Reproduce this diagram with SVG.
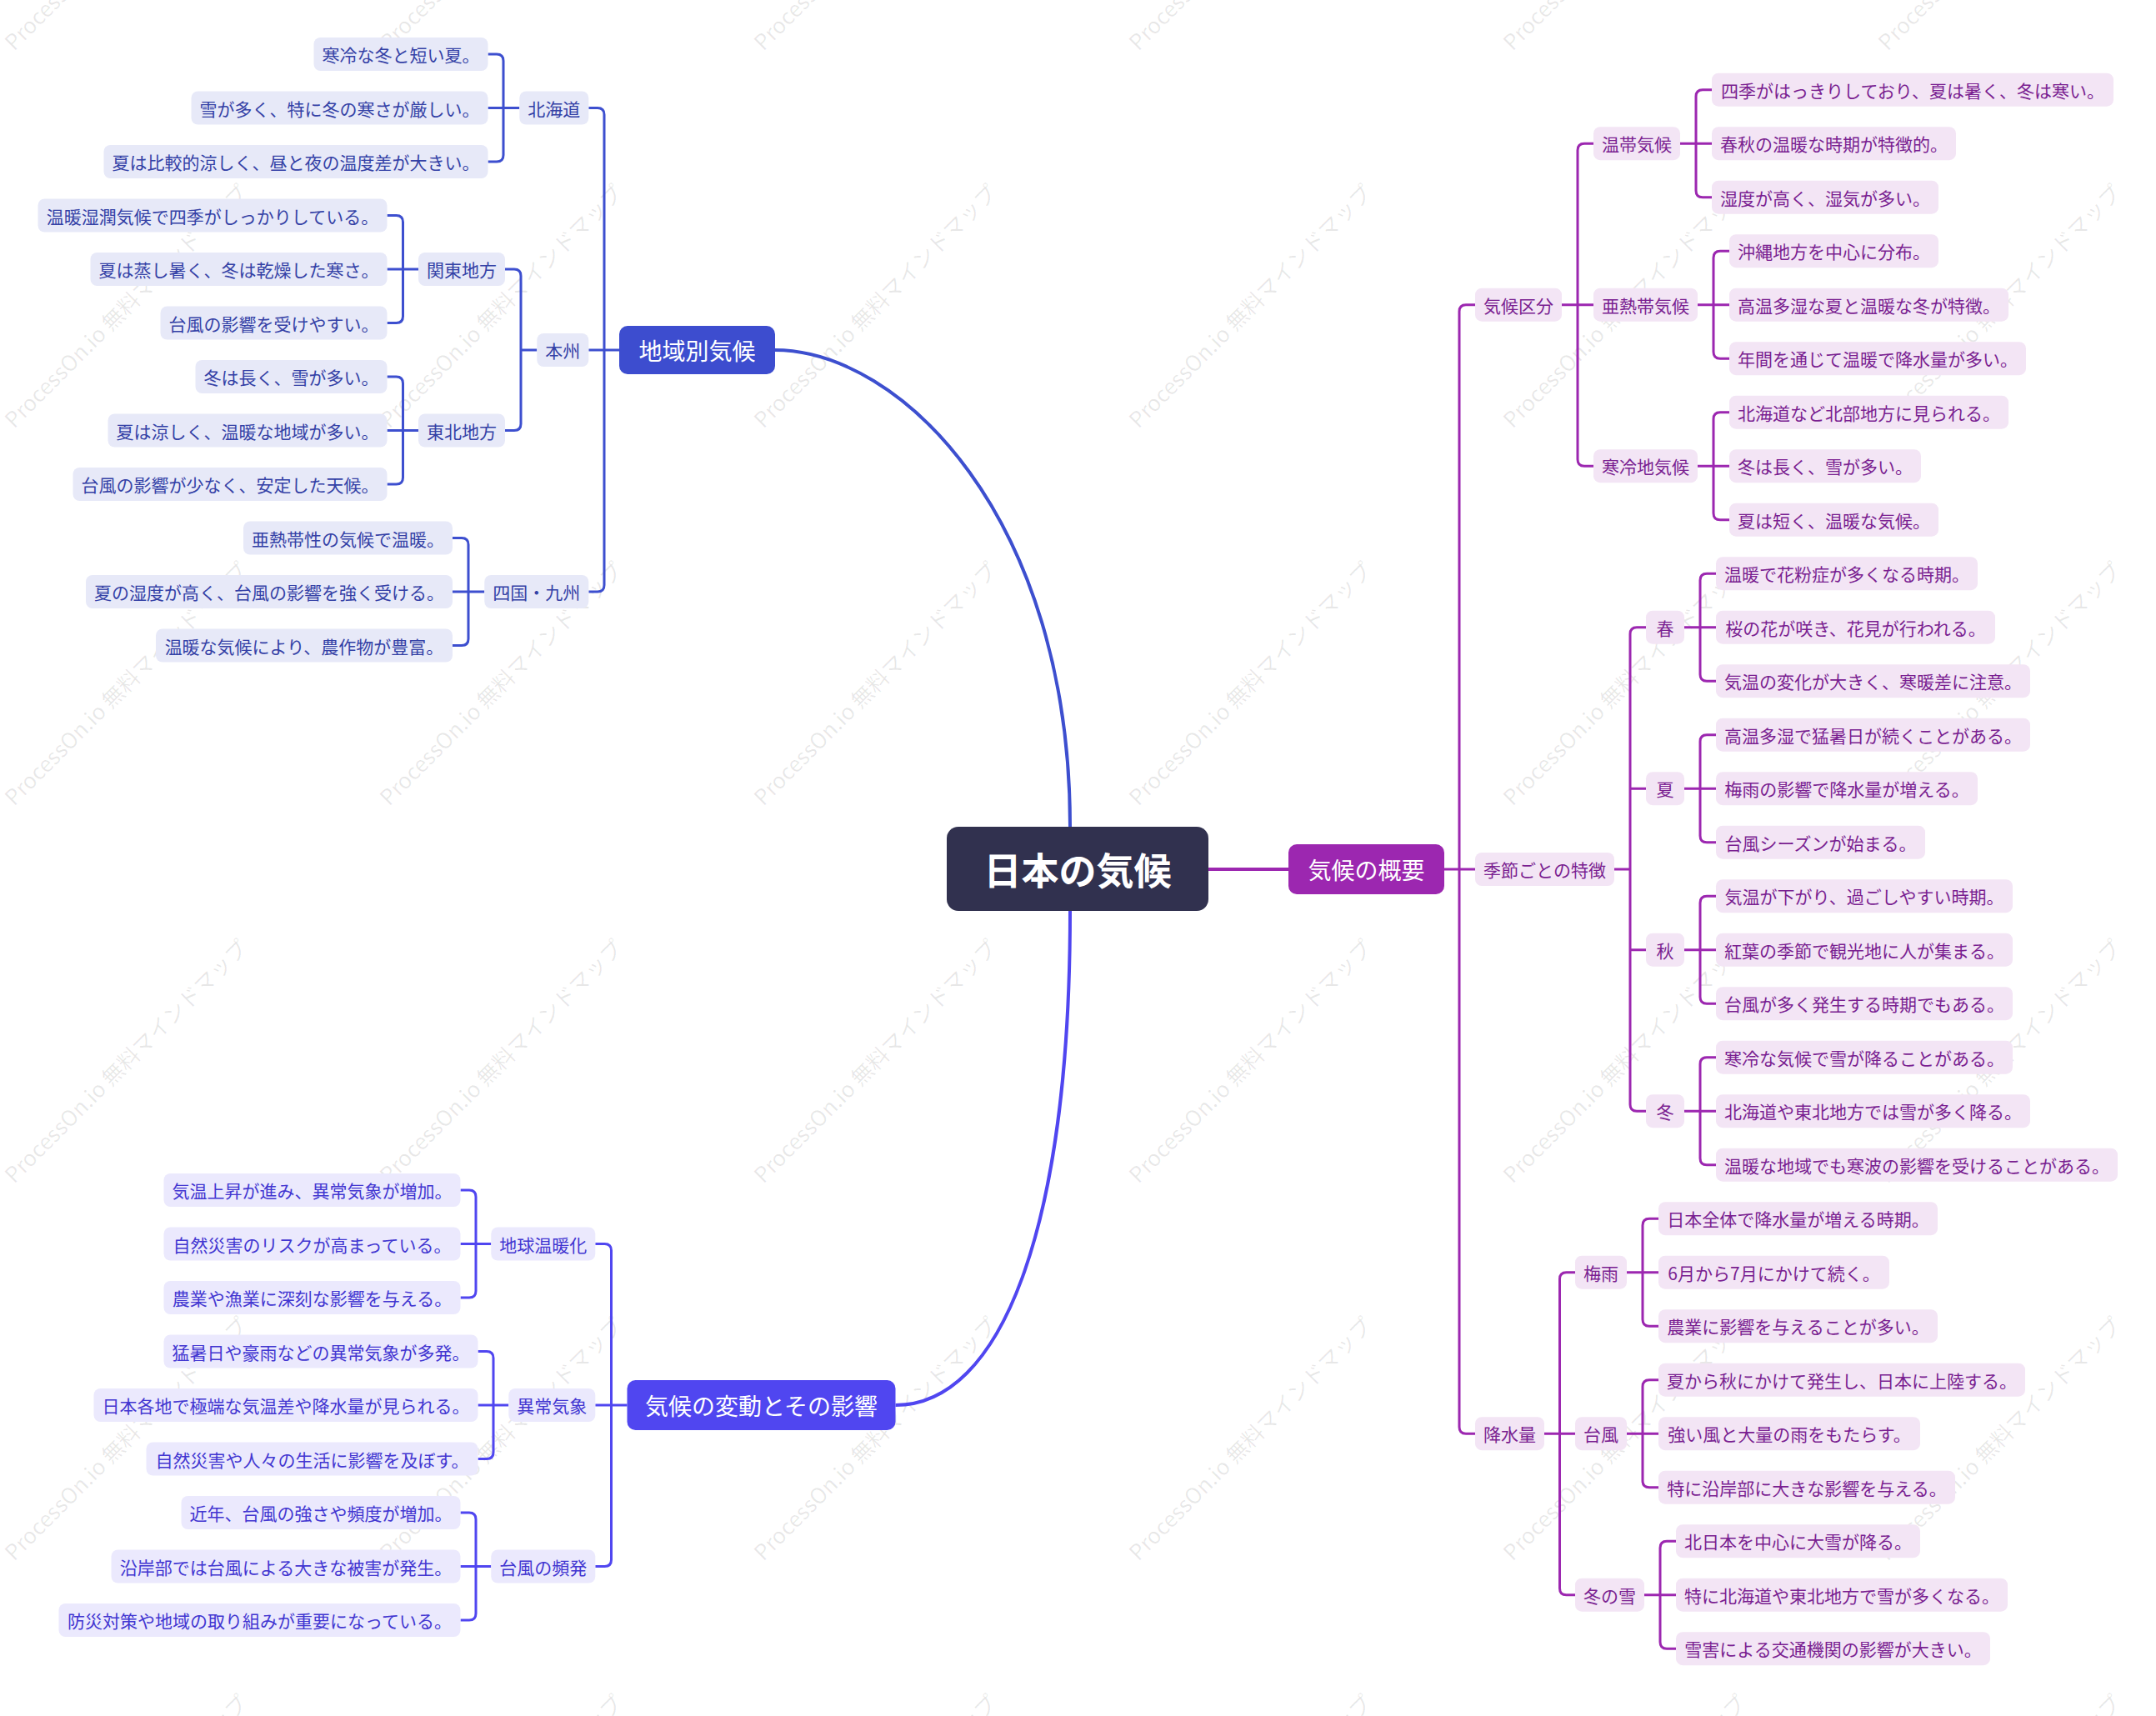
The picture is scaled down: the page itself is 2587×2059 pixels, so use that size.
<svg xmlns="http://www.w3.org/2000/svg" xmlns:xlink="http://www.w3.org/1999/xlink" width="2587" height="2059" viewBox="0 0 2587 2059">
<style>
text{font-family:"Noto Sans CJK JP","Noto Sans",sans-serif;dominant-baseline:central;text-anchor:middle}
.wm{font-size:26px;fill:#000;fill-opacity:0.09;text-anchor:start;dominant-baseline:alphabetic}
.n text{font-size:21px}
.b rect{fill:#E7E9F8}.b text{fill:#3441A6}
.p rect{fill:#F3E5F5}.p text{fill:#7A1F91}
.v rect{fill:#EBE9FD}.v text{fill:#4236D1}
.top text{font-size:28px;fill:#fff}
.ln{fill:none;stroke-width:3}
.lb{stroke:#3D4FCF}.lp{stroke:#9C27B0}.lv{stroke:#5046F0}
.main{fill:none;stroke-width:4}
</style>
<defs>
<text id="wmt" class="wm" transform="rotate(-45)">ProcessOn.io 無料マインドマップ</text>
</defs>
<rect width="2587" height="2059" fill="#fff"/>
<g id="watermark">
<use xlink:href="#wmt" x="0" y="0" transform="translate(17,62)"/><use xlink:href="#wmt" transform="translate(467,62)"/><use xlink:href="#wmt" transform="translate(916,62)"/><use xlink:href="#wmt" transform="translate(1366,62)"/><use xlink:href="#wmt" transform="translate(1815,62)"/><use xlink:href="#wmt" transform="translate(2265,62)"/>
<use xlink:href="#wmt" transform="translate(17,515)"/><use xlink:href="#wmt" transform="translate(467,515)"/><use xlink:href="#wmt" transform="translate(916,515)"/><use xlink:href="#wmt" transform="translate(1366,515)"/><use xlink:href="#wmt" transform="translate(1815,515)"/><use xlink:href="#wmt" transform="translate(2265,515)"/>
<use xlink:href="#wmt" transform="translate(17,968)"/><use xlink:href="#wmt" transform="translate(467,968)"/><use xlink:href="#wmt" transform="translate(916,968)"/><use xlink:href="#wmt" transform="translate(1366,968)"/><use xlink:href="#wmt" transform="translate(1815,968)"/><use xlink:href="#wmt" transform="translate(2265,968)"/>
<use xlink:href="#wmt" transform="translate(17,1421)"/><use xlink:href="#wmt" transform="translate(467,1421)"/><use xlink:href="#wmt" transform="translate(916,1421)"/><use xlink:href="#wmt" transform="translate(1366,1421)"/><use xlink:href="#wmt" transform="translate(1815,1421)"/><use xlink:href="#wmt" transform="translate(2265,1421)"/>
<use xlink:href="#wmt" transform="translate(17,1874)"/><use xlink:href="#wmt" transform="translate(467,1874)"/><use xlink:href="#wmt" transform="translate(916,1874)"/><use xlink:href="#wmt" transform="translate(1366,1874)"/><use xlink:href="#wmt" transform="translate(1815,1874)"/><use xlink:href="#wmt" transform="translate(2265,1874)"/>
<use xlink:href="#wmt" transform="translate(17,2327)"/><use xlink:href="#wmt" transform="translate(467,2327)"/><use xlink:href="#wmt" transform="translate(916,2327)"/><use xlink:href="#wmt" transform="translate(1366,2327)"/><use xlink:href="#wmt" transform="translate(1815,2327)"/><use xlink:href="#wmt" transform="translate(2265,2327)"/>
</g>

<g id="connectors">
<path class="main lb" d="M929.5,420 C1080,420 1284,620 1284,992"/>
<path class="main lv" d="M1284,1093 C1284,1478 1200,1686 1074.5,1686"/>
<path class="main lp" d="M1450,1043 H1546"/>
<g class="ln lb">
<path d="M706.3,129.5 H717 Q725,129.5 725,137.5 V702 Q725,710 717,710 H706.3 M706.3,420 H743"/>
<path d="M585.5,65 H596 Q604,65 604,73 V186 Q604,194 596,194 H585.5 M585.5,129.5 H623.3"/>
<path d="M606,323 H617 Q625,323 625,331 V508.5 Q625,516.5 617,516.5 H606 M625,420 H644.3"/>
<path d="M464.5,258.5 H475.5 Q483.5,258.5 483.5,266.5 V379.5 Q483.5,387.5 475.5,387.5 H464.5 M464.5,323 H502"/>
<path d="M464.5,452 H475.5 Q483.5,452 483.5,460 V573 Q483.5,581 475.5,581 H464.5 M464.5,516.5 H502"/>
<path d="M543,645.5 H554 Q562,645.5 562,653.5 V766.5 Q562,774.5 554,774.5 H543 M543,710 H581.3"/>
</g>
<g class="ln lv">
<path d="M714.3,1492.5 H725.5 Q733.5,1492.5 733.5,1500.5 V1871.5 Q733.5,1879.5 725.5,1879.5 H714.3 M714.3,1686 H752.5"/>
<path d="M552.5,1428 H563 Q571,1428 571,1436 V1549 Q571,1557 563,1557 H552.5 M552.5,1492.5 H589.3"/>
<path d="M573.5,1621.5 H584 Q592,1621.5 592,1629.5 V1742.5 Q592,1750.5 584,1750.5 H573.5 M573.5,1686 H610.3"/>
<path d="M552.5,1815 H563 Q571,1815 571,1823 V1936 Q571,1944 563,1944 H552.5 M552.5,1879.5 H589.3"/>
</g>
<g class="ln lp">
<path d="M1770,365.7 H1759 Q1751,365.7 1751,373.7 V1712.2 Q1751,1720.2 1759,1720.2 H1770 M1733,1043 H1770"/>
<path d="M1912,172.2 H1901 Q1893,172.2 1893,180.2 V551.2 Q1893,559.2 1901,559.2 H1912 M1874,365.7 H1912"/>
<path d="M2054,107.7 H2043 Q2035,107.7 2035,115.7 V228.7 Q2035,236.7 2043,236.7 H2054 M2016,172.2 H2054"/>
<path d="M2075,301.2 H2064 Q2056,301.2 2056,309.2 V422.2 Q2056,430.2 2064,430.2 H2075 M2037,365.7 H2075"/>
<path d="M2075,494.7 H2064 Q2056,494.7 2056,502.7 V615.7 Q2056,623.7 2064,623.7 H2075 M2037,559.2 H2075"/>
<path d="M1975,752.7 H1964 Q1956,752.7 1956,760.7 V1325.2 Q1956,1333.2 1964,1333.2 H1975 M1956,946.2 H1975 M1956,1139.7 H1975 M1937,1043 H1956"/>
<path d="M2059,688.2 H2048 Q2040,688.2 2040,696.2 V809.2 Q2040,817.2 2048,817.2 H2059 M2021,752.7 H2059"/>
<path d="M2059,881.7 H2048 Q2040,881.7 2040,889.7 V1002.7 Q2040,1010.7 2048,1010.7 H2059 M2021,946.2 H2059"/>
<path d="M2059,1075.2 H2048 Q2040,1075.2 2040,1083.2 V1196.2 Q2040,1204.2 2048,1204.2 H2059 M2021,1139.7 H2059"/>
<path d="M2059,1268.7 H2048 Q2040,1268.7 2040,1276.7 V1389.7 Q2040,1397.7 2048,1397.7 H2059 M2021,1333.2 H2059"/>
<path d="M1890,1526.7 H1879.5 Q1871.5,1526.7 1871.5,1534.7 V1905.7 Q1871.5,1913.7 1879.5,1913.7 H1890 M1853,1720.2 H1890"/>
<path d="M1990,1462.2 H1979 Q1971,1462.2 1971,1470.2 V1583.2 Q1971,1591.2 1979,1591.2 H1990 M1952,1526.7 H1990"/>
<path d="M1990,1655.7 H1979 Q1971,1655.7 1971,1663.7 V1776.7 Q1971,1784.7 1979,1784.7 H1990 M1952,1720.2 H1990"/>
<path d="M2011,1849.2 H2000 Q1992,1849.2 1992,1857.2 V1970.2 Q1992,1978.2 2000,1978.2 H2011 M1973,1913.7 H2011"/>
</g>
</g>

<g id="center"><rect x="1136" y="992" width="314" height="101" rx="14" fill="#31314F"/><text x="1293" y="1042.5" font-size="45" font-weight="bold" fill="#fff">日本の気候</text></g>

<g id="region" class="top"><rect x="743" y="391" width="187" height="58" rx="10" fill="#3D4DCF"/><text x="836.5" y="420">地域別気候</text></g>
<g id="overview" class="top"><rect x="1546" y="1013" width="187" height="60" rx="10" fill="#9C27B0"/><text x="1639.5" y="1043">気候の概要</text></g>
<g id="change" class="top"><rect x="752.5" y="1656" width="322" height="60" rx="10" fill="#5046F0"/><text x="913.5" y="1686">気候の変動とその影響</text></g>

<g class="n b">
<g id="hokkaido"><rect x="623.3" y="109.5" width="83" height="40" rx="8"/><text x="664.8" y="129.5">北海道</text></g>
<g id="honshu"><rect x="644.3" y="400" width="62" height="40" rx="8"/><text x="675.3" y="420">本州</text></g>
<g id="kanto"><rect x="502" y="303" width="104" height="40" rx="8"/><text x="554" y="323">関東地方</text></g>
<g id="tohoku"><rect x="502" y="496.5" width="104" height="40" rx="8"/><text x="554" y="516.5">東北地方</text></g>
<g id="shikoku"><rect x="581.3" y="690" width="125" height="40" rx="8"/><text x="643.8" y="710">四国・九州</text></g>
<g id="b1"><rect x="376.5" y="45" width="209" height="40" rx="8"/><text x="481" y="65">寒冷な冬と短い夏。</text></g>
<g id="b2"><rect x="229.5" y="109.5" width="356" height="40" rx="8"/><text x="407.5" y="129.5">雪が多く、特に冬の寒さが厳しい。</text></g>
<g id="b3"><rect x="124.5" y="174" width="461" height="40" rx="8"/><text x="355" y="194">夏は比較的涼しく、昼と夜の温度差が大きい。</text></g>
<g id="b4"><rect x="45.5" y="238.5" width="419" height="40" rx="8"/><text x="255" y="258.5">温暖湿潤気候で四季がしっかりしている。</text></g>
<g id="b5"><rect x="108.5" y="303" width="356" height="40" rx="8"/><text x="286.5" y="323">夏は蒸し暑く、冬は乾燥した寒さ。</text></g>
<g id="b6"><rect x="192.5" y="367.5" width="272" height="40" rx="8"/><text x="328.5" y="387.5">台風の影響を受けやすい。</text></g>
<g id="b7"><rect x="234.5" y="432" width="230" height="40" rx="8"/><text x="349.5" y="452">冬は長く、雪が多い。</text></g>
<g id="b8"><rect x="129.5" y="496.5" width="335" height="40" rx="8"/><text x="297" y="516.5">夏は涼しく、温暖な地域が多い。</text></g>
<g id="b9"><rect x="87.5" y="561" width="377" height="40" rx="8"/><text x="276" y="581">台風の影響が少なく、安定した天候。</text></g>
<g id="b10"><rect x="292" y="625.5" width="251" height="40" rx="8"/><text x="417.5" y="645.5">亜熱帯性の気候で温暖。</text></g>
<g id="b11"><rect x="103" y="690" width="440" height="40" rx="8"/><text x="323" y="710">夏の湿度が高く、台風の影響を強く受ける。</text></g>
<g id="b12"><rect x="187" y="754.5" width="356" height="40" rx="8"/><text x="365" y="774.5">温暖な気候により、農作物が豊富。</text></g>
</g>

<g class="n v">
<g id="warming"><rect x="589.3" y="1472.5" width="125" height="40" rx="8"/><text x="651.8" y="1492.5">地球温暖化</text></g>
<g id="abnormal"><rect x="610.3" y="1666" width="104" height="40" rx="8"/><text x="662.3" y="1686">異常気象</text></g>
<g id="typhoons"><rect x="589.3" y="1859.5" width="125" height="40" rx="8"/><text x="651.8" y="1879.5">台風の頻発</text></g>
<g id="v1"><rect x="196.5" y="1408" width="356" height="40" rx="8"/><text x="374.5" y="1428">気温上昇が進み、異常気象が増加。</text></g>
<g id="v2"><rect x="196.5" y="1472.5" width="356" height="40" rx="8"/><text x="374.5" y="1492.5">自然災害のリスクが高まっている。</text></g>
<g id="v3"><rect x="196.5" y="1537" width="356" height="40" rx="8"/><text x="374.5" y="1557">農業や漁業に深刻な影響を与える。</text></g>
<g id="v4"><rect x="196.5" y="1601.5" width="377" height="40" rx="8"/><text x="385" y="1621.5">猛暑日や豪雨などの異常気象が多発。</text></g>
<g id="v5"><rect x="112.5" y="1666" width="461" height="40" rx="8"/><text x="343" y="1686">日本各地で極端な気温差や降水量が見られる。</text></g>
<g id="v6"><rect x="175.5" y="1730.5" width="398" height="40" rx="8"/><text x="374.5" y="1750.5">自然災害や人々の生活に影響を及ぼす。</text></g>
<g id="v7"><rect x="217.5" y="1795" width="335" height="40" rx="8"/><text x="385" y="1815">近年、台風の強さや頻度が増加。</text></g>
<g id="v8"><rect x="133.5" y="1859.5" width="419" height="40" rx="8"/><text x="343" y="1879.5">沿岸部では台風による大きな被害が発生。</text></g>
<g id="v9"><rect x="70.5" y="1924" width="482" height="40" rx="8"/><text x="311.5" y="1944">防災対策や地域の取り組みが重要になっている。</text></g>
</g>

<g class="n p">
<g id="zones"><rect x="1770" y="345.7" width="104" height="40" rx="8"/><text x="1822" y="365.7">気候区分</text></g>
<g id="seasons"><rect x="1770" y="1023" width="167" height="40" rx="8"/><text x="1853.5" y="1043">季節ごとの特徴</text></g>
<g id="rain"><rect x="1770" y="1700.2" width="83" height="40" rx="8"/><text x="1811.5" y="1720.2">降水量</text></g>
<g id="temperate"><rect x="1912" y="152.2" width="104" height="40" rx="8"/><text x="1964" y="172.2">温帯気候</text></g>
<g id="subtropical"><rect x="1912" y="345.7" width="125" height="40" rx="8"/><text x="1974.5" y="365.7">亜熱帯気候</text></g>
<g id="cold"><rect x="1912" y="539.2" width="125" height="40" rx="8"/><text x="1974.5" y="559.2">寒冷地気候</text></g>
<g id="spring"><rect x="1975" y="732.7" width="46" height="40" rx="8"/><text x="1998" y="752.7">春</text></g>
<g id="summer"><rect x="1975" y="926.2" width="46" height="40" rx="8"/><text x="1998" y="946.2">夏</text></g>
<g id="autumn"><rect x="1975" y="1119.7" width="46" height="40" rx="8"/><text x="1998" y="1139.7">秋</text></g>
<g id="winter"><rect x="1975" y="1313.2" width="46" height="40" rx="8"/><text x="1998" y="1333.2">冬</text></g>
<g id="tsuyu"><rect x="1890" y="1506.7" width="62" height="40" rx="8"/><text x="1921" y="1526.7">梅雨</text></g>
<g id="typhoon"><rect x="1890" y="1700.2" width="62" height="40" rx="8"/><text x="1921" y="1720.2">台風</text></g>
<g id="snow"><rect x="1890" y="1893.7" width="83" height="40" rx="8"/><text x="1931.5" y="1913.7">冬の雪</text></g>
<g id="p1"><rect x="2054" y="87.7" width="482" height="40" rx="8"/><text x="2295" y="107.7">四季がはっきりしており、夏は暑く、冬は寒い。</text></g>
<g id="p2"><rect x="2054" y="152.2" width="293" height="40" rx="8"/><text x="2200.5" y="172.2">春秋の温暖な時期が特徴的。</text></g>
<g id="p3"><rect x="2054" y="216.7" width="272" height="40" rx="8"/><text x="2190" y="236.7">湿度が高く、湿気が多い。</text></g>
<g id="p4"><rect x="2075" y="281.2" width="251" height="40" rx="8"/><text x="2200.5" y="301.2">沖縄地方を中心に分布。</text></g>
<g id="p5"><rect x="2075" y="345.7" width="335" height="40" rx="8"/><text x="2242.5" y="365.7">高温多湿な夏と温暖な冬が特徴。</text></g>
<g id="p6"><rect x="2075" y="410.2" width="356" height="40" rx="8"/><text x="2253" y="430.2">年間を通じて温暖で降水量が多い。</text></g>
<g id="p7"><rect x="2075" y="474.7" width="335" height="40" rx="8"/><text x="2242.5" y="494.7">北海道など北部地方に見られる。</text></g>
<g id="p8"><rect x="2075" y="539.2" width="230" height="40" rx="8"/><text x="2190" y="559.2">冬は長く、雪が多い。</text></g>
<g id="p9"><rect x="2075" y="603.7" width="251" height="40" rx="8"/><text x="2200.5" y="623.7">夏は短く、温暖な気候。</text></g>
<g id="p10"><rect x="2059" y="668.2" width="314" height="40" rx="8"/><text x="2216" y="688.2">温暖で花粉症が多くなる時期。</text></g>
<g id="p11"><rect x="2059" y="732.7" width="335" height="40" rx="8"/><text x="2226.5" y="752.7">桜の花が咲き、花見が行われる。</text></g>
<g id="p12"><rect x="2059" y="797.2" width="377" height="40" rx="8"/><text x="2247.5" y="817.2">気温の変化が大きく、寒暖差に注意。</text></g>
<g id="p13"><rect x="2059" y="861.7" width="377" height="40" rx="8"/><text x="2247.5" y="881.7">高温多湿で猛暑日が続くことがある。</text></g>
<g id="p14"><rect x="2059" y="926.2" width="314" height="40" rx="8"/><text x="2216" y="946.2">梅雨の影響で降水量が増える。</text></g>
<g id="p15"><rect x="2059" y="990.7" width="251" height="40" rx="8"/><text x="2184.5" y="1010.7">台風シーズンが始まる。</text></g>
<g id="p16"><rect x="2059" y="1055.2" width="356" height="40" rx="8"/><text x="2237" y="1075.2">気温が下がり、過ごしやすい時期。</text></g>
<g id="p17"><rect x="2059" y="1119.7" width="356" height="40" rx="8"/><text x="2237" y="1139.7">紅葉の季節で観光地に人が集まる。</text></g>
<g id="p18"><rect x="2059" y="1184.2" width="356" height="40" rx="8"/><text x="2237" y="1204.2">台風が多く発生する時期でもある。</text></g>
<g id="p19"><rect x="2059" y="1248.7" width="356" height="40" rx="8"/><text x="2237" y="1268.7">寒冷な気候で雪が降ることがある。</text></g>
<g id="p20"><rect x="2059" y="1313.2" width="377" height="40" rx="8"/><text x="2247.5" y="1333.2">北海道や東北地方では雪が多く降る。</text></g>
<g id="p21"><rect x="2059" y="1377.7" width="482" height="40" rx="8"/><text x="2300" y="1397.7">温暖な地域でも寒波の影響を受けることがある。</text></g>
<g id="p22"><rect x="1990" y="1442.2" width="335" height="40" rx="8"/><text x="2157.5" y="1462.2">日本全体で降水量が増える時期。</text></g>
<g id="p23"><rect x="1990" y="1506.7" width="277" height="40" rx="8"/><text x="2128.5" y="1526.7">6月から7月にかけて続く。</text></g>
<g id="p24"><rect x="1990" y="1571.2" width="335" height="40" rx="8"/><text x="2157.5" y="1591.2">農業に影響を与えることが多い。</text></g>
<g id="p25"><rect x="1990" y="1635.7" width="440" height="40" rx="8"/><text x="2210" y="1655.7">夏から秋にかけて発生し、日本に上陸する。</text></g>
<g id="p26"><rect x="1990" y="1700.2" width="314" height="40" rx="8"/><text x="2147" y="1720.2">強い風と大量の雨をもたらす。</text></g>
<g id="p27"><rect x="1990" y="1764.7" width="356" height="40" rx="8"/><text x="2168" y="1784.7">特に沿岸部に大きな影響を与える。</text></g>
<g id="p28"><rect x="2011" y="1829.2" width="293" height="40" rx="8"/><text x="2157.5" y="1849.2">北日本を中心に大雪が降る。</text></g>
<g id="p29"><rect x="2011" y="1893.7" width="398" height="40" rx="8"/><text x="2210" y="1913.7">特に北海道や東北地方で雪が多くなる。</text></g>
<g id="p30"><rect x="2011" y="1958.2" width="377" height="40" rx="8"/><text x="2199.5" y="1978.2">雪害による交通機関の影響が大きい。</text></g>
</g>
</svg>
